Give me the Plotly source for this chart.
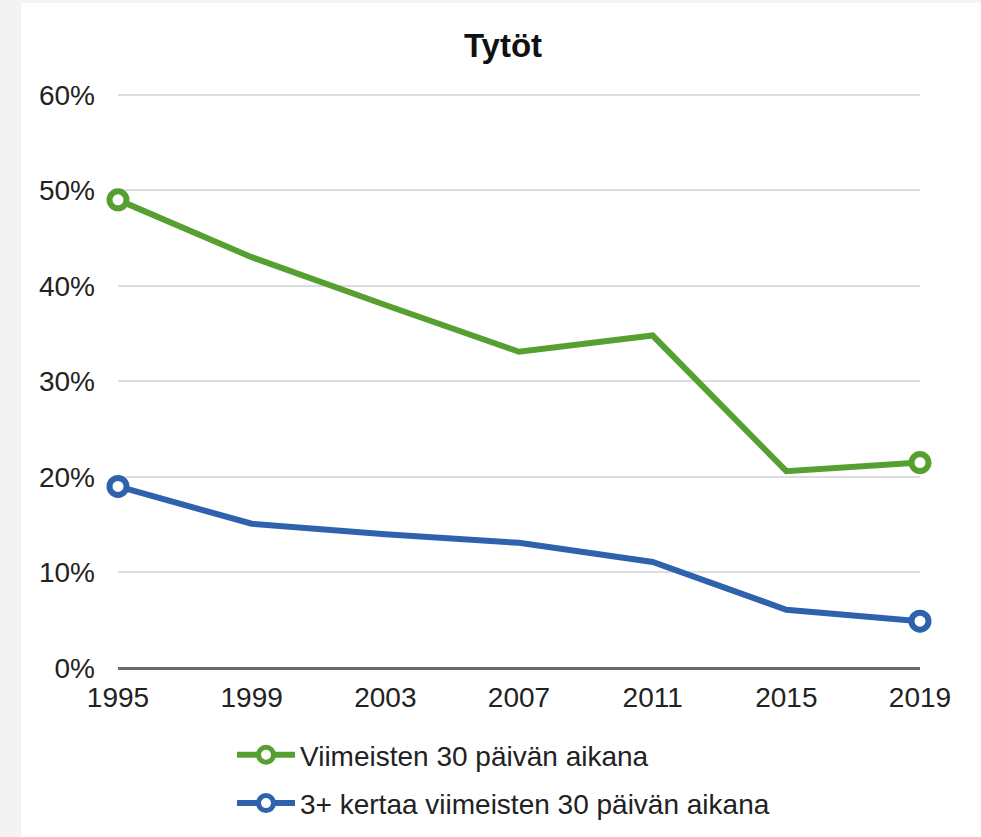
import plotly.graph_objects as go

years = [1995, 1999, 2003, 2007, 2011, 2015, 2019]
green_vals = [49.0, 43.0, 38.0, 33.1, 34.8, 20.6, 21.5]
blue_vals = [19.0, 15.1, 14.0, 13.1, 11.1, 6.1, 4.9]
green_name = "Viimeisten 30 päivän aikana"
blue_name = "3+ kertaa viimeisten 30 päivän aikana"
title_text = "Tytöt"
y_ticks = [0, 10, 20, 30, 40, 50, 60]
y_ticktext = [f"{v}%" for v in y_ticks]

GREEN = "#56a031"
BLUE = "#2f62ad"
FONT = "Liberation Sans, Arial, sans-serif"

W, H = 981, 837
ML, MR, MT, MB = 118, 61, 90, 169

fig = go.Figure()

for vals, color, name in [(green_vals, GREEN, green_name), (blue_vals, BLUE, blue_name)]:
    fig.add_trace(go.Scatter(
        x=years, y=vals, mode="lines", showlegend=False,
        line=dict(color=color, width=6), hoverinfo="skip",
    ))
    fig.add_trace(go.Scatter(
        x=[years[0], years[-1]], y=[vals[0], vals[-1]], mode="markers",
        showlegend=False, cliponaxis=False,
        marker=dict(size=17, color="white", line=dict(color=color, width=6)),
    ))

for color, name in [(GREEN, green_name), (BLUE, blue_name)]:
    fig.add_trace(go.Scatter(
        x=[None], y=[None], mode="lines+markers", name=name, legendgroup=name,
        line=dict(color=color, width=6),
        marker=dict(size=15, color="white", line=dict(color=color, width=5)),
    ))

pw = W - ML - MR
ph = H - MT - MB


def px_x(px):
    return (px - ML) / pw


def px_y(py):
    return (H - MB - py) / ph


# grey border strips around the white panel (left and top)
fig.add_shape(type="rect", xref="paper", yref="paper",
              x0=px_x(0), x1=px_x(21), y0=px_y(H), y1=px_y(0),
              fillcolor="#f3f3f3", line_width=0, layer="below")
fig.add_shape(type="rect", xref="paper", yref="paper",
              x0=px_x(0), x1=px_x(W), y0=px_y(3), y1=px_y(0),
              fillcolor="#f3f3f3", line_width=0, layer="below")

fig.update_layout(
    width=W, height=H,
    margin=dict(l=ML, r=MR, t=MT, b=MB, pad=0, autoexpand=False),
    paper_bgcolor="white", plot_bgcolor="white",
    font=dict(family=FONT, size=28, color="#222222"),
    title=dict(text=f"<b>{title_text}</b>", x=503 / W, xanchor="center",
               y=1 - 45 / H, yanchor="middle", font=dict(size=33, color="#111111")),
    showlegend=True,
    legend=dict(xref="container", yref="container",
                x=232 / W, xanchor="left", y=1 - 730 / H,
                yanchor="top", orientation="v", itemwidth=58, tracegroupgap=9,
                font=dict(size=28, color="#222222"), bgcolor="rgba(0,0,0,0)"),
    xaxis=dict(range=[1995, 2019], tickvals=years, ticktext=[str(y) for y in years],
               showgrid=False, zeroline=False, showline=False, ticks="",
               ticklabelstandoff=10, fixedrange=True),
    yaxis=dict(range=[0, 60.5], tickvals=y_ticks, ticktext=y_ticktext,
               showgrid=True, gridcolor="#dcdde1", gridwidth=2,
               zeroline=True, zerolinecolor="#6b6b6b", zerolinewidth=3,
               showline=False, ticks="", ticklabelstandoff=22, fixedrange=True),
)

fig.write_html("out.html", config={"displayModeBar": False},
               post_script="document.body.style.margin='0';document.body.style.padding='0';")
